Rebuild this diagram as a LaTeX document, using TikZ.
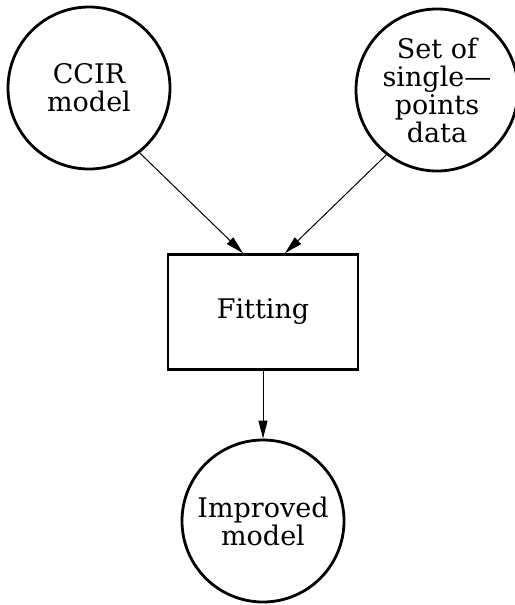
\documentclass[tikz,border=0pt]{standalone}
\usepackage{fontspec}
\setmainfont{DejaVu Serif}
\usetikzlibrary{arrows.meta}

\tikzset{
  blob/.style={circle, draw, line width=1.4pt, minimum size=81pt, inner sep=0pt,
    align=center, font=\fontsize{13.5}{14}\selectfont},
  stagebox/.style={rectangle, draw, line width=1.3pt, minimum width=95pt,
    minimum height=57.5pt, font=\fontsize{13.5}{14}\selectfont},
  flow/.style={-{Triangle[length=9pt,width=4.5pt]}, line width=0.5pt}
}

\begin{document}
\begin{tikzpicture}[x=0.5pt, y=-0.5pt]
\useasboundingbox (0,0) rectangle (514,605);

% inputs
\node[blob] (ccir) at (89,88) {CCIR\\model};
\node[blob] (data) at (437,90) {Set of\\single---\\points\\data};

% fitting step
\node[stagebox] (fit) at (263,312) {Fitting};
\coordinate (inL) at ([xshift=-10pt]fit.north);
\coordinate (inR) at ([xshift=11pt]fit.north);

% result
\node[blob] (impr) at (263,521) {Improved\\model};

\draw[flow] (ccir.-52) -- (inL);
\draw[flow] (data.-128) -- (inR);
\draw[flow] (fit.south) -- (impr.north);
\end{tikzpicture}
\end{document}
